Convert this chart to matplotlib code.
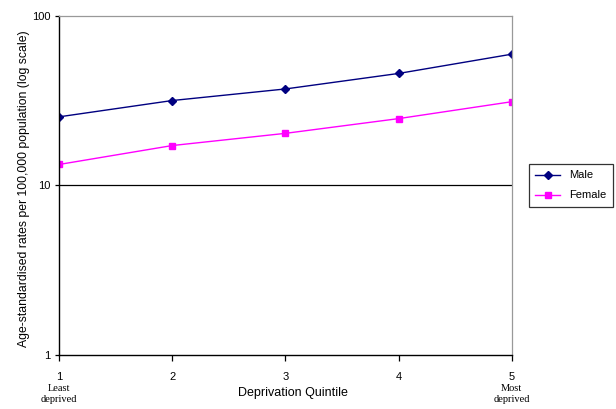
import matplotlib
matplotlib.use("Agg")
import matplotlib.pyplot as plt

plt.rcParams['font.family'] = ['Liberation Sans', 'DejaVu Sans']

quintiles = [1, 2, 3, 4, 5]
male = [25.4, 31.7, 37.1, 45.8, 59.5]
female = [13.3, 17.2, 20.3, 24.8, 31.2]
y_ticks = [1, 10, 100]

fig = plt.figure(figsize=(6.16, 4.09), dpi=100)
ax = fig.add_axes([0.0958, 0.132, 0.735, 0.829])

ax.plot(quintiles, male, color='#000080', marker='D', markersize=4, lw=1, label='Male')
ax.plot(quintiles, female, color='#FF00FF', marker='s', markersize=4.5, lw=1, label='Female')

ax.set_yscale('log')
ax.set_ylim(1, 100)
ax.set_xlim(1, 5)
ax.set_yticks(y_ticks)
ax.set_yticklabels([str(v) for v in y_ticks])
ax.minorticks_off()
ax.set_xticks(quintiles)
ax.axhline(10, color='black', lw=0.9, zorder=0)

for side in ['top', 'right']:
    ax.spines[side].set_color('#999999')
    ax.spines[side].set_linewidth(0.9)
for side in ['left', 'bottom']:
    ax.spines[side].set_linewidth(1.0)

ax.tick_params(labelsize=8, width=0.9, direction='out')
ax.tick_params(axis='x', length=4, pad=8)
ax.tick_params(axis='y', length=3, pad=3)

ax.set_xlabel('Deprivation Quintile', fontsize=9)
ax.xaxis.set_label_coords(0.517, -0.093)
ax.xaxis.label.set_va('top')
ax.set_ylabel('Age-standardised rates per 100,000 population (log scale)', fontsize=8.8)
ax.yaxis.set_label_coords(-0.063, 0.49)

ax.text(1, -0.085, 'Least\ndeprived', transform=ax.get_xaxis_transform(), ha='center', va='top',
        family=['Liberation Serif', 'DejaVu Serif'], fontsize=7.5, linespacing=1.3)
ax.text(5, -0.085, 'Most\ndeprived', transform=ax.get_xaxis_transform(), ha='center', va='top',
        family=['Liberation Serif', 'DejaVu Serif'], fontsize=7.5, linespacing=1.3)

leg = ax.legend(loc='center left', bbox_to_anchor=(1.025, 0.5), fontsize=8, frameon=True,
                fancybox=False, edgecolor='black', handlelength=2.2, borderpad=0.6,
                labelspacing=0.9)
leg.get_frame().set_linewidth(0.9)

fig.savefig('out.png', dpi=100)
